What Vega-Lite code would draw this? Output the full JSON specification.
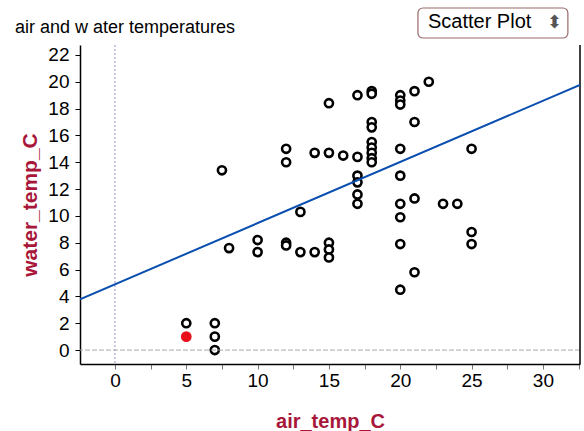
{
  "$schema": "https://vega.github.io/schema/vega-lite/v6.json",
  "width": 500,
  "height": 319,
  "autosize": "none",
  "padding": {"left": 80, "top": 45, "right": 4, "bottom": 67},
  "background": "white",
  "title": {"text": "air and w ater temperatures", "anchor": "start", "frame": "group", "dx": -65, "dy": 43, "offset": 13, "fontSize": 18, "fontWeight": "normal", "font": "Liberation Sans", "color": "black"},
  "config": {"view": {"stroke": null}, "font": "Liberation Sans"},
  "datasets": {
    "temps": [
      {"air": 5, "water": 2, "group": "normal"},
      {"air": 5, "water": 1, "group": "selected"},
      {"air": 7, "water": 2, "group": "normal"},
      {"air": 7, "water": 1, "group": "normal"},
      {"air": 7, "water": 0, "group": "normal"},
      {"air": 7.5, "water": 13.4, "group": "normal"},
      {"air": 8, "water": 7.6, "group": "normal"},
      {"air": 10, "water": 8.2, "group": "normal"},
      {"air": 10, "water": 7.3, "group": "normal"},
      {"air": 12, "water": 15, "group": "normal"},
      {"air": 12, "water": 14, "group": "normal"},
      {"air": 12, "water": 8, "group": "normal"},
      {"air": 12, "water": 7.8, "group": "normal"},
      {"air": 13, "water": 10.3, "group": "normal"},
      {"air": 13, "water": 7.3, "group": "normal"},
      {"air": 14, "water": 7.3, "group": "normal"},
      {"air": 14, "water": 14.7, "group": "normal"},
      {"air": 15, "water": 18.4, "group": "normal"},
      {"air": 15, "water": 14.7, "group": "normal"},
      {"air": 15, "water": 8, "group": "normal"},
      {"air": 15, "water": 7.5, "group": "normal"},
      {"air": 15, "water": 6.9, "group": "normal"},
      {"air": 16, "water": 14.5, "group": "normal"},
      {"air": 17, "water": 14.4, "group": "normal"},
      {"air": 17, "water": 19, "group": "normal"},
      {"air": 17, "water": 13, "group": "normal"},
      {"air": 17, "water": 12.5, "group": "normal"},
      {"air": 17, "water": 11.6, "group": "normal"},
      {"air": 17, "water": 10.9, "group": "normal"},
      {"air": 18, "water": 19.3, "group": "normal"},
      {"air": 18, "water": 19.1, "group": "normal"},
      {"air": 18, "water": 17, "group": "normal"},
      {"air": 18, "water": 16.6, "group": "normal"},
      {"air": 18, "water": 15.5, "group": "normal"},
      {"air": 18, "water": 15.1, "group": "normal"},
      {"air": 18, "water": 14.7, "group": "normal"},
      {"air": 18, "water": 14.3, "group": "normal"},
      {"air": 18, "water": 14, "group": "normal"},
      {"air": 20, "water": 19, "group": "normal"},
      {"air": 20, "water": 18.6, "group": "normal"},
      {"air": 20, "water": 18.3, "group": "normal"},
      {"air": 20, "water": 15, "group": "normal"},
      {"air": 20, "water": 13, "group": "normal"},
      {"air": 20, "water": 10.9, "group": "normal"},
      {"air": 20, "water": 9.9, "group": "normal"},
      {"air": 20, "water": 7.9, "group": "normal"},
      {"air": 20, "water": 4.5, "group": "normal"},
      {"air": 21, "water": 19.3, "group": "normal"},
      {"air": 21, "water": 17, "group": "normal"},
      {"air": 21, "water": 11.3, "group": "normal"},
      {"air": 21, "water": 5.8, "group": "normal"},
      {"air": 22, "water": 20, "group": "normal"},
      {"air": 23, "water": 10.9, "group": "normal"},
      {"air": 24, "water": 10.9, "group": "normal"},
      {"air": 25, "water": 15, "group": "normal"},
      {"air": 25, "water": 8.8, "group": "normal"},
      {"air": 25, "water": 7.9, "group": "normal"}
    ],
    "fit": [
      {"air": -2.45, "water": 3.78},
      {"air": 32.6, "water": 19.77}
    ]
  },
  "layer": [
    {
      "data": {"name": "temps"},
      "mark": {"type": "point", "shape": "circle", "filled": true, "size": 66, "strokeWidth": 2.6, "opacity": 1},
      "encoding": {
        "x": {"field": "air", "type": "quantitative", "title": "air_temp_C",
          "scale": {"domain": [-2.45, 32.6], "nice": false, "zero": false},
          "axis": {"values": [0, 2.5, 5, 7.5, 10, 12.5, 15, 17.5, 20, 22.5, 25, 27.5, 30, 32.5], "tickCount": 30,
            "labelExpr": "datum.value % 5 === 0 ? datum.label : ''", "labelOverlap": false,
            "grid": false, "domainColor": "black", "domainWidth": 1.5, "tickColor": "#777777", "tickSize": 5,
            "labelFontSize": 19, "labelColor": "black", "labelPadding": 2, "labelFont": "Liberation Sans",
            "titleFontSize": 20, "titleFontWeight": "bold", "titleColor": "#a8173a", "titlePadding": 21, "titleFont": "Liberation Sans"}},
        "y": {"field": "water", "type": "quantitative", "title": "water_temp_C",
          "scale": {"domain": [-1.04, 22.74], "nice": false, "zero": false},
          "axis": {"values": [0, 2, 4, 6, 8, 10, 12, 14, 16, 18, 20, 22], "tickCount": 30, "labelOverlap": false,
            "grid": false, "domainColor": "black", "domainWidth": 1.5, "tickColor": "black", "tickSize": 5,
            "labelFontSize": 19, "labelColor": "black", "labelPadding": 6, "labelFont": "Liberation Sans",
            "titleFontSize": 21, "titleFontWeight": "bold", "titleColor": "#a8173a", "titlePadding": 7, "titleFont": "Liberation Sans"}},
        "fill": {"field": "group", "type": "nominal", "scale": {"domain": ["normal", "selected"], "range": ["white", "#e8101a"]}, "legend": null},
        "stroke": {"field": "group", "type": "nominal", "scale": {"domain": ["normal", "selected"], "range": ["black", "#e8101a"]}, "legend": null}
      }
    },
    {
      "data": {"values": [{"air": 0}]},
      "mark": {"type": "rule", "color": "#9a8fc8", "strokeWidth": 1, "strokeDash": [2, 2]},
      "encoding": {"x": {"field": "air", "type": "quantitative"}}
    },
    {
      "data": {"values": [{"water": 0}]},
      "mark": {"type": "rule", "color": "#aaaaaa", "strokeWidth": 1, "strokeDash": [5, 2]},
      "encoding": {"y": {"field": "water", "type": "quantitative"}}
    },
    {
      "data": {"values": [{"air": 32.6}]},
      "mark": {"type": "rule", "color": "black", "strokeWidth": 1.5},
      "encoding": {"x": {"field": "air", "type": "quantitative"}}
    },
    {
      "data": {"name": "fit"},
      "mark": {"type": "line", "color": "#0a4fb0", "strokeWidth": 2, "clip": true},
      "encoding": {
        "x": {"field": "air", "type": "quantitative"},
        "y": {"field": "water", "type": "quantitative"}
      }
    },
    {
      "data": {"values": [{"label": "Scatter Plot"}]},
      "mark": {"type": "rect", "fill": "white", "stroke": "#9a6a6a", "strokeWidth": 1.2, "cornerRadius": 5},
      "encoding": {
        "x": {"datum": 21.24}, "x2": {"datum": 31.75},
        "y": {"datum": 25.5}, "y2": {"datum": 23.26}
      }
    },
    {
      "data": {"values": [{"label": "Scatter Plot"}]},
      "mark": {"type": "text", "align": "left", "baseline": "middle", "fontSize": 20, "font": "Liberation Sans", "color": "black"},
      "encoding": {
        "x": {"datum": 21.94}, "y": {"datum": 24.46},
        "text": {"field": "label"}
      }
    },
    {
      "data": {"values": [{"label": "⬍"}]},
      "mark": {"type": "text", "align": "center", "baseline": "middle", "fontSize": 18, "font": "DejaVu Sans", "color": "#555555"},
      "encoding": {
        "x": {"datum": 30.8}, "y": {"datum": 24.4},
        "text": {"field": "label"}
      }
    }
  ]
}
